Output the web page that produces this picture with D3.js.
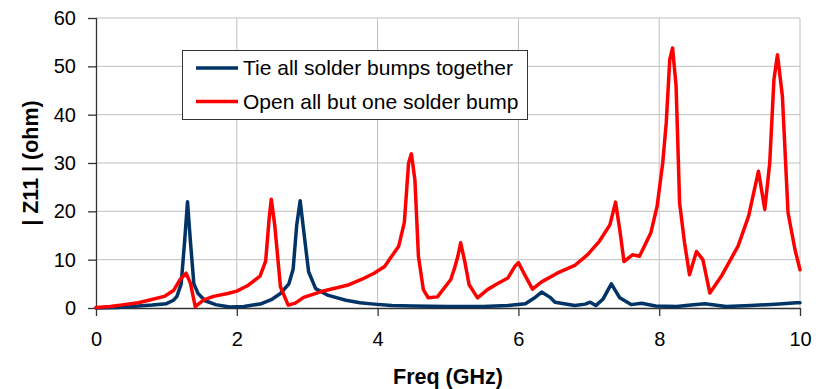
<!DOCTYPE html>
<html>
<head>
<meta charset="utf-8">
<script src="https://cdn.jsdelivr.net/npm/d3@7"></script>
<style>
  body { margin: 0; background: #fff; }
  svg text { font-family: "Liberation Sans", Arial, sans-serif; fill: #000; }
</style>
</head>
<body>
<div id="chart"></div>
<script>
// tie all solder bumps together
let tieFreq = [0, 0.3, 0.6, 0.8, 1.0, 1.1, 1.15, 1.21, 1.26, 1.30, 1.34, 1.39, 1.45, 1.55, 1.7, 1.9,
    2.1, 2.35, 2.5, 2.62, 2.74, 2.8, 2.85, 2.9, 2.95, 3.02, 3.12, 3.3, 3.55, 3.75, 3.95, 4.2, 4.5,
    5.0, 5.5, 5.85, 6.1, 6.22, 6.33, 6.45, 6.52, 6.8, 6.95, 7.02, 7.1, 7.2, 7.32, 7.44, 7.6, 7.75,
    7.95, 8.25, 8.45, 8.65, 8.95, 9.3, 9.65, 9.95, 10];
let tieZ = [0, 0.1, 0.4, 0.6, 0.9, 1.6, 2.4, 5, 14, 22, 14, 5, 3, 1.5, 0.7, 0.2,
    0.3, 0.9, 1.8, 3, 5, 8, 17, 22.2, 16, 7.5, 4, 2.6, 1.6, 1.1, 0.8, 0.5, 0.4,
    0.3, 0.3, 0.5, 0.9, 2.0, 3.3, 2.2, 1.2, 0.5, 0.8, 1.2, 0.5, 1.8, 5.0, 2.1, 0.7, 1.0,
    0.4, 0.3, 0.6, 0.9, 0.3, 0.5, 0.8, 1.1, 1.1];

// open all but one solder bump
let openFreq = [0, 0.2, 0.4, 0.6, 0.75, 0.97, 1.1, 1.2, 1.28, 1.34, 1.41, 1.53, 1.67, 1.87, 2.0,
    2.15, 2.33, 2.41, 2.46, 2.49, 2.54, 2.62, 2.73, 2.83, 2.95, 3.2, 3.57, 3.77, 3.95, 4.1, 4.3,
    4.38, 4.44, 4.48, 4.53, 4.58, 4.65, 4.72, 4.85, 5.04, 5.1, 5.14, 5.18, 5.24, 5.3, 5.42, 5.56,
    5.7, 5.85, 5.95, 6.0, 6.1, 6.2, 6.33, 6.55, 6.8, 6.98, 7.15, 7.3, 7.38, 7.44, 7.5, 7.62, 7.72,
    7.88, 7.97, 8.05, 8.1, 8.15, 8.19, 8.24, 8.29, 8.36, 8.43, 8.53, 8.62, 8.72, 8.88, 9.12, 9.27,
    9.41, 9.5, 9.57, 9.63, 9.68, 9.75, 9.83, 9.93, 10];
let openZ = [0.1, 0.3, 0.7, 1.1, 1.6, 2.4, 3.6, 6, 7.2, 5.2, 0.3, 1.7, 2.4, 3, 3.5,
    4.6, 6.6, 9.7, 18.6, 22.5, 17, 4.4, 0.6, 1.0, 2.2, 3.4, 4.7, 5.9, 7.2, 8.6, 12.8,
    17.7, 30, 31.9, 26.5, 10.7, 3.8, 2.1, 2.3, 5.9, 8.6, 10.7, 13.5, 9.5, 4.8, 2.1, 3.8,
    5, 6.2, 8.6, 9.4, 6.6, 3.9, 5.4, 7.2, 8.8, 11, 13.8, 17.2, 21.9, 16.2, 9.6, 11, 10.7,
    15.5, 21, 30, 38.3, 51.4, 53.8, 45.9, 21.7, 13.5, 6.9, 11.7, 10, 3.1, 6.5, 12.8, 19,
    28.3, 20.4, 30, 47.3, 52.4, 43.8, 19.7, 12, 7.9];

let seriesNames = ["Tie all solder bumps together", "Open all but one solder bump"];
let seriesColors = ["#003366", "#ff0000"];
let xTicks = [0, 2, 4, 6, 8, 10];
let yTicks = [0, 10, 20, 30, 40, 50, 60];

let margin = {top: 18, right: 21, bottom: 81, left: 96};
let W = 821, H = 389;
let w = W - margin.left - margin.right;
let h = H - margin.top - margin.bottom;

let svg = d3.select("#chart").append("svg")
    .attr("width", W)
    .attr("height", H);

let g = svg.append("g")
    .attr("transform", "translate(" + margin.left + "," + margin.top + ")");

let xScale = d3.scaleLinear().domain([0, 10]).range([0, w]);
let yScale = d3.scaleLinear().domain([0, 60]).range([h, 0]);

// grid
g.append("g").selectAll("line")
    .data(yTicks.slice(1))
    .join("line")
    .attr("x1", 0).attr("x2", w)
    .attr("y1", d => yScale(d)).attr("y2", d => yScale(d))
    .attr("stroke", "#c0c0c0").attr("stroke-width", 1);

g.append("g").selectAll("line")
    .data(xTicks.slice(1))
    .join("line")
    .attr("x1", d => xScale(d)).attr("x2", d => xScale(d))
    .attr("y1", 0).attr("y2", h)
    .attr("stroke", "#c0c0c0").attr("stroke-width", 1);

// axes
let yaxis = g.append("g")
    .call(d3.axisLeft(yScale).tickValues(yTicks).tickSize(8).tickPadding(12));
let xaxis = g.append("g")
    .attr("transform", "translate(0," + h + ")")
    .call(d3.axisBottom(xScale).tickValues(xTicks).tickSize(8).tickPadding(16));

[yaxis, xaxis].forEach(a => {
    a.select(".domain").attr("stroke", "#333").attr("stroke-width", 1.3);
    a.selectAll(".tick line").attr("stroke", "#333").attr("stroke-width", 1.3);
    a.selectAll("text").style("font-size", "20px").attr("fill", "#000");
});
xaxis.select(".domain").attr("d", "M0,0.5H" + w);
yaxis.select(".domain").attr("d", "M0.5,0V" + h);

// lines
let line = d3.line()
    .x(d => xScale(d[0]))
    .y(d => yScale(d[1]));

let tieData = tieFreq.map((f, i) => [f, tieZ[i]]);
let openData = openFreq.map((f, i) => [f, openZ[i]]);

[tieData, openData].forEach((d, i) => {
    g.append("path")
        .datum(d)
        .attr("d", line)
        .attr("fill", "none")
        .attr("stroke", seriesColors[i])
        .attr("stroke-width", 3.5)
        .attr("stroke-linejoin", "round")
        .attr("stroke-linecap", "round");
});

// legend
let legend = svg.append("g").attr("transform", "translate(182,50)");
legend.append("rect")
    .attr("x", 0.5).attr("y", 0.5)
    .attr("width", 345).attr("height", 69)
    .attr("fill", "#fff").attr("stroke", "#333").attr("stroke-width", 1);

seriesNames.forEach((name, i) => {
    let y = 18 + i * 33.5;
    legend.append("line")
        .attr("x1", 14).attr("x2", 56)
        .attr("y1", y).attr("y2", y)
        .attr("stroke", seriesColors[i]).attr("stroke-width", 3.5);
    legend.append("text")
        .attr("x", 61).attr("y", y)
        .attr("dy", "0.35em")
        .style("font-size", "21px")
        .text(name);
});

// axis titles
svg.append("text")
    .attr("x", margin.left + w / 2)
    .attr("y", 384)
    .attr("text-anchor", "middle")
    .style("font-size", "21.5px")
    .style("font-weight", "bold")
    .text("Freq (GHz)");

svg.append("text")
    .attr("transform", "translate(38,163)rotate(-90)")
    .attr("text-anchor", "middle")
    .style("font-size", "21.5px")
    .style("font-weight", "bold")
    .text("| Z11 | (ohm)");
</script>
</body>
</html>
